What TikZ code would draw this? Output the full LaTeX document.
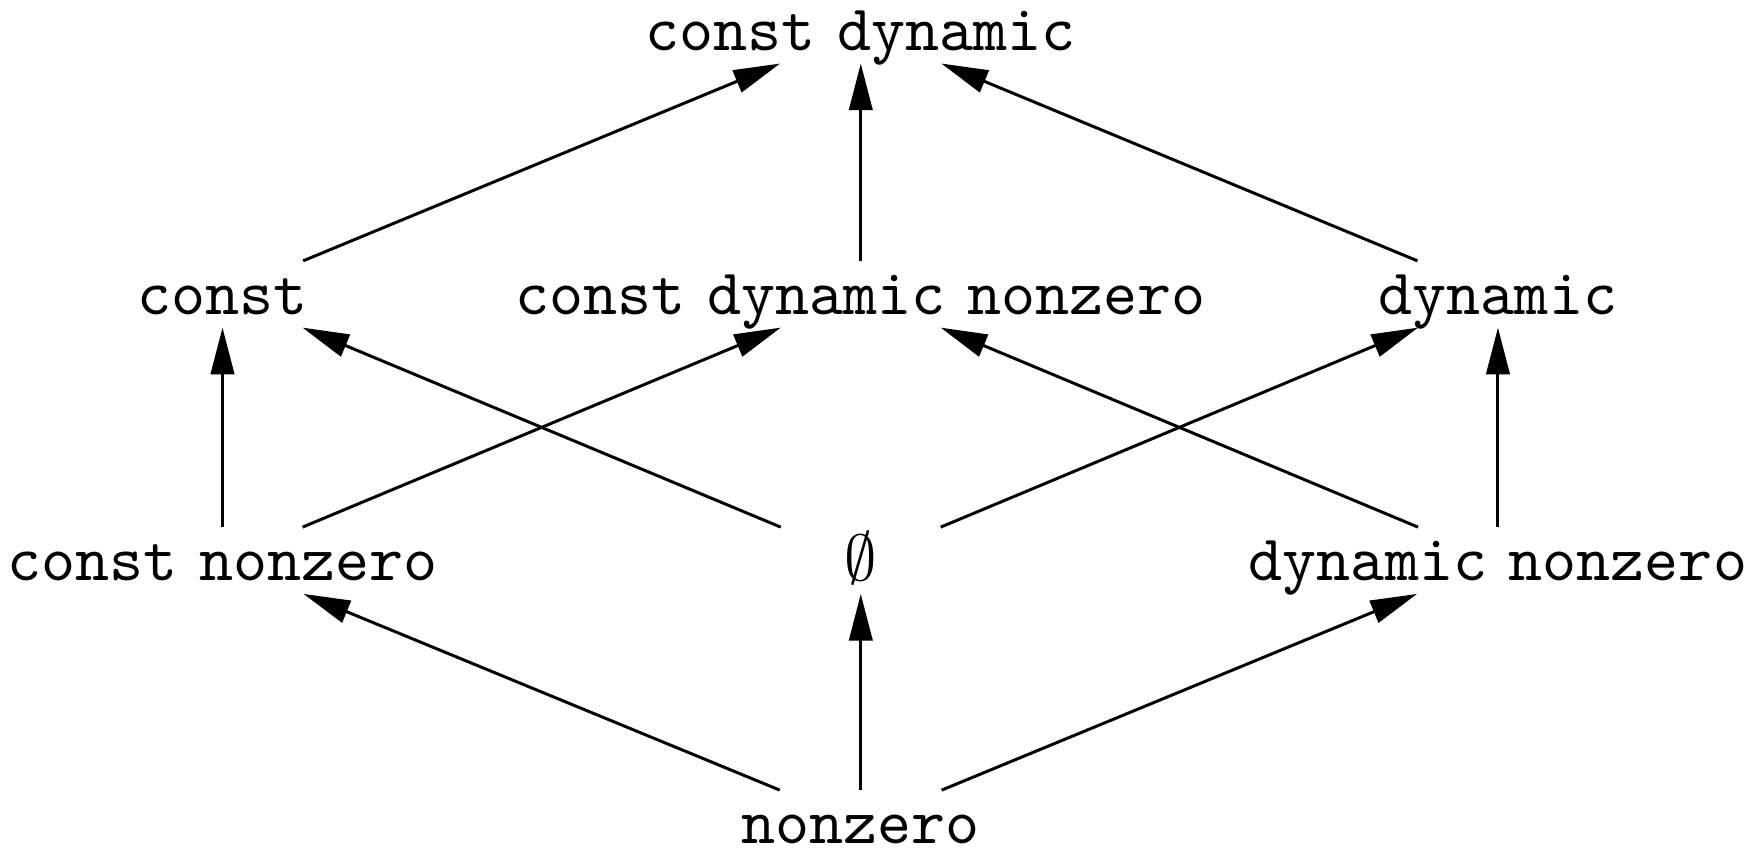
\documentclass[tikz,border=0pt]{standalone}
\usetikzlibrary{arrows.meta}
\newcommand{\kw}[1]{\texttt{#1}}
\begin{document}
\begin{tikzpicture}[x=0.17331pt,y=-0.17331pt,
  lattice/.style={inner sep=0pt, text height=8.1pt, text depth=1.8pt,
    minimum width=26.5pt, anchor=base},
  order/.style={-{Triangle[length=7.2pt,width=3.6pt]}, line width=0.46pt}]
  \useasboundingbox (0,0) rectangle (1568,756);
  % top
  \node[lattice] (cd)  at (766,45)   {\kw{const} \kw{dynamic}};
  % second row
  \node[lattice] (c)   at (198,280)  {\kw{const}};
  \node[lattice] (cdn) at (766,280)  {\kw{const} \kw{dynamic} \kw{nonzero}};
  \node[lattice] (d)   at (1333,280) {\kw{dynamic}};
  % third row
  \node[lattice] (cn)  at (198,517)  {\kw{const} \kw{nonzero}};
  \node[lattice] (e)   at (766,517)  {$\emptyset$};
  \node[lattice] (dn)  at (1333,517) {\kw{dynamic} \kw{nonzero}};
  % bottom
  \node[lattice] (n)   at (766,751)  {\kw{nonzero}};
  % order relations
  \draw[order] (c) -- (cd);
  \draw[order] (cdn) -- (cd);
  \draw[order] (d) -- (cd);
  \draw[order] (cn) -- (c);
  \draw[order] (cn) -- (cdn);
  \draw[order] (e) -- (c);
  \draw[order] (e) -- (d);
  \draw[order] (dn) -- (cdn);
  \draw[order] (dn) -- (d);
  \draw[order] (n) -- (cn);
  \draw[order] (n) -- (e);
  \draw[order] (n) -- (dn);
\end{tikzpicture}
\end{document}
